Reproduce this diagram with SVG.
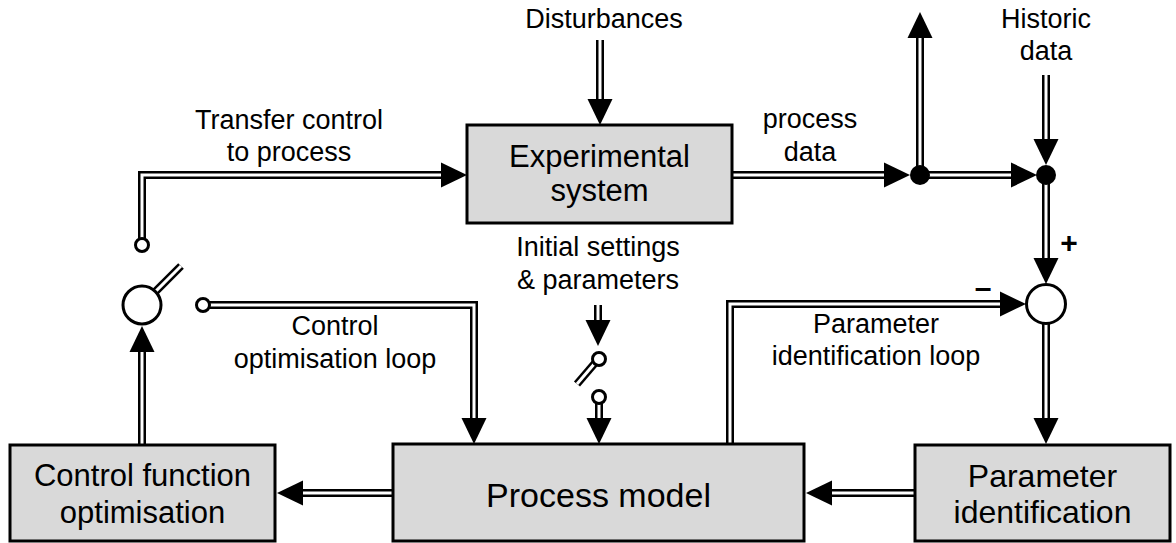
<svg xmlns="http://www.w3.org/2000/svg" xmlns:xlink="http://www.w3.org/1999/xlink" width="1176" height="543" viewBox="0 0 1176 543">
  <style>
    .box { fill: #d9d9d9; stroke: #000; stroke-width: 3; }
    .lbl { font-family: "Liberation Sans", Arial, sans-serif; font-size: 27px; fill: #000; text-anchor: middle; }
    .btxt { font-family: "Liberation Sans", Arial, sans-serif; fill: #000; text-anchor: middle; }
    .sign { font-family: "Liberation Sans", Arial, sans-serif; font-size: 30px; font-weight: bold; fill: #000; text-anchor: middle; }
    .outer { fill: none; stroke: #000; stroke-width: 8; stroke-linejoin: miter; stroke-linecap: butt; }
    .inner { fill: none; stroke: #fff; stroke-width: 3; stroke-linejoin: miter; stroke-linecap: butt; }
    .term { fill: #fff; stroke: #000; stroke-width: 3; }
    .dot { fill: #000; }
  </style>
  <defs>
    <marker id="head" markerUnits="userSpaceOnUse" markerWidth="30" markerHeight="30" refX="0" refY="12.5" orient="auto" viewBox="0 0 30 30" overflow="visible">
      <path d="M0,0 L26,12.5 L0,25 z" fill="#000"/>
    </marker>
    <!-- connector centre lines; each is stroked twice (black, then white) to give the hollow double line -->
    <path id="c-dist" d="M600,40 V99"/>
    <path id="c-transfer" d="M142,238 V175 H441"/>
    <path id="c-pdata" d="M733,175 H884"/>
    <path id="c-up" d="M920,175 V38"/>
    <path id="c-dots" d="M920,175 H1011"/>
    <path id="c-hist" d="M1046,75 V139"/>
    <path id="c-plus" d="M1046,175 V258"/>
    <path id="c-toid" d="M1046,324 V418"/>
    <path id="c-idloop" d="M730,444 V304 H1000"/>
    <path id="c-idmodel" d="M915,493 H832"/>
    <path id="c-modelopt" d="M393,493 H303"/>
    <path id="c-optsw" d="M142,445 V352"/>
    <path id="c-ctlloop" d="M209,305 H474 V418"/>
    <path id="c-init" d="M598,305 V320"/>
    <path id="c-init2" d="M599,403 V418"/>
    <path id="c-arm1" d="M155.4,291.6 L181,266"/>
    <path id="c-arm2" d="M595,363 L577,384"/>
  </defs>

  <rect width="1176" height="543" fill="#fff"/>

  <!-- connectors -->
  <g id="connectors">
    <g class="outer" marker-end="url(#head)">
      <use xlink:href="#c-dist"/>
      <use xlink:href="#c-transfer"/>
      <use xlink:href="#c-pdata"/>
      <use xlink:href="#c-up"/>
      <use xlink:href="#c-dots"/>
      <use xlink:href="#c-hist"/>
      <use xlink:href="#c-plus"/>
      <use xlink:href="#c-toid"/>
      <use xlink:href="#c-idloop"/>
      <use xlink:href="#c-idmodel"/>
      <use xlink:href="#c-modelopt"/>
      <use xlink:href="#c-optsw"/>
      <use xlink:href="#c-ctlloop"/>
      <use xlink:href="#c-init"/>
      <use xlink:href="#c-init2"/>
    </g>
    <g class="outer">
      <use xlink:href="#c-arm1"/>
      <use xlink:href="#c-arm2"/>
    </g>
    <g class="inner">
      <use xlink:href="#c-dist"/>
      <use xlink:href="#c-transfer"/>
      <use xlink:href="#c-pdata"/>
      <use xlink:href="#c-up"/>
      <use xlink:href="#c-dots"/>
      <use xlink:href="#c-hist"/>
      <use xlink:href="#c-plus"/>
      <use xlink:href="#c-toid"/>
      <use xlink:href="#c-idloop"/>
      <use xlink:href="#c-idmodel"/>
      <use xlink:href="#c-modelopt"/>
      <use xlink:href="#c-optsw"/>
      <use xlink:href="#c-ctlloop"/>
      <use xlink:href="#c-init"/>
      <use xlink:href="#c-init2"/>
      <use xlink:href="#c-arm1"/>
      <use xlink:href="#c-arm2"/>
    </g>
  </g>

  <!-- junctions, summing point and switch contacts -->
  <g id="junction-split"><circle class="dot" cx="920" cy="175" r="10"/></g>
  <g id="junction-merge"><circle class="dot" cx="1046" cy="175" r="10"/></g>
  <g id="sum">
    <circle class="term" cx="1046" cy="304" r="19.5"/>
    <text class="sign" x="1069" y="253">+</text>
    <text class="sign" font-size="38" x="983" y="298">–</text>
  </g>
  <g id="switch-control">
    <circle class="term" cx="142" cy="305" r="19"/>
    <circle class="term" cx="142" cy="245" r="6.5"/>
    <circle class="term" cx="203" cy="305" r="6.5"/>
  </g>
  <g id="switch-init">
    <circle class="term" cx="599" cy="359" r="6.5"/>
    <circle class="term" cx="599" cy="397" r="6.5"/>
  </g>

  <!-- blocks -->
  <g id="experimental-system">
    <rect class="box" x="467" y="125" width="265" height="98"/>
    <text class="btxt" font-size="31" x="599.5" y="167">Experimental</text>
    <text class="btxt" font-size="31" x="599.5" y="201">system</text>
  </g>
  <g id="control-function-optimisation">
    <rect class="box" x="10" y="445" width="265" height="96"/>
    <text class="btxt" font-size="31" x="142.5" y="486">Control function</text>
    <text class="btxt" font-size="31" x="142.5" y="523">optimisation</text>
  </g>
  <g id="process-model">
    <rect class="box" x="393" y="444" width="411" height="97"/>
    <text class="btxt" font-size="34" x="598.5" y="507">Process model</text>
  </g>
  <g id="parameter-identification">
    <rect class="box" x="915" y="445" width="255" height="96"/>
    <text class="btxt" font-size="32" x="1042.5" y="487">Parameter</text>
    <text class="btxt" font-size="32" x="1042.5" y="523">identification</text>
  </g>

  <!-- signal labels -->
  <g id="labels">
    <text class="lbl" x="604" y="28">Disturbances</text>
    <text class="lbl" x="1046" y="28">Historic</text>
    <text class="lbl" x="1046" y="60">data</text>
    <text class="lbl" x="289" y="129">Transfer control</text>
    <text class="lbl" x="289" y="161">to process</text>
    <text class="lbl" x="810" y="128">process</text>
    <text class="lbl" x="810" y="161">data</text>
    <text class="lbl" x="598" y="256">Initial settings</text>
    <text class="lbl" x="598" y="289">&amp; parameters</text>
    <text class="lbl" x="335" y="335">Control</text>
    <text class="lbl" x="335" y="368">optimisation loop</text>
    <text class="lbl" x="876" y="333">Parameter</text>
    <text class="lbl" x="876" y="365">identification loop</text>
  </g>
</svg>
